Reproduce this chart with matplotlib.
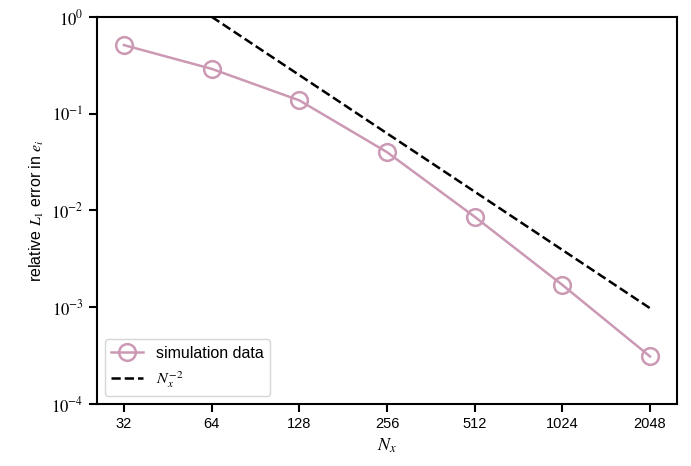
import numpy as np
import matplotlib
matplotlib.use("Agg")
import matplotlib.pyplot as plt
from matplotlib.ticker import FuncFormatter

# resolution sweep
N = [32, 64, 128, 256, 512, 1024, 2048]
err = [0.51, 0.29, 0.137, 0.040, 0.0086, 0.0017, 0.00031]
N_ref = [64, 128, 256, 512, 1024, 2048]
ref_const = 4096.0

plt.rcParams['font.family'] = ['Liberation Sans', 'DejaVu Sans']
plt.rcParams['mathtext.fontset'] = 'stix'
plt.rcParams['font.size'] = 10.5

fig = plt.figure(figsize=(6.91, 4.66), dpi=100)
ax = fig.add_axes([0.140, 0.133, 0.840, 0.831])

col = '#cc99b4'
ax.plot(N, err, color=col, lw=1.8, marker='o', ms=12, mfc='none',
        mec=col, mew=1.8, label='simulation data')
ref = [ref_const / n**2 for n in N_ref]
ax.plot(N_ref, ref, 'k--', lw=1.8, label=r'$N_x^{-2}$')

ax.set_xscale('log', base=2)
ax.set_yscale('log')
ax.set_xlim(32 * 2**-0.31, 2048 * 2**0.31)
ax.set_ylim(1e-4, 1)
ax.set_xticks(N)
ax.set_xticklabels([str(n) for n in N])
ax.yaxis.set_major_formatter(FuncFormatter(lambda v, p: r'$10^{%d}$' % round(np.log10(v))))
ax.minorticks_off()
ax.tick_params(which='major', length=6, width=1.5)
ax.tick_params(axis='y', labelsize=12)
for s in ax.spines.values():
    s.set_linewidth(1.5)

ax.set_xlabel(r'$N_x$', fontsize=13)
ax.set_ylabel(r'relative $L_1$ error in $e_i$', fontsize=11.5)
ax.legend(loc='lower left', fontsize=11.5, handlelength=2.0)

fig.savefig('out.png', dpi=100)
